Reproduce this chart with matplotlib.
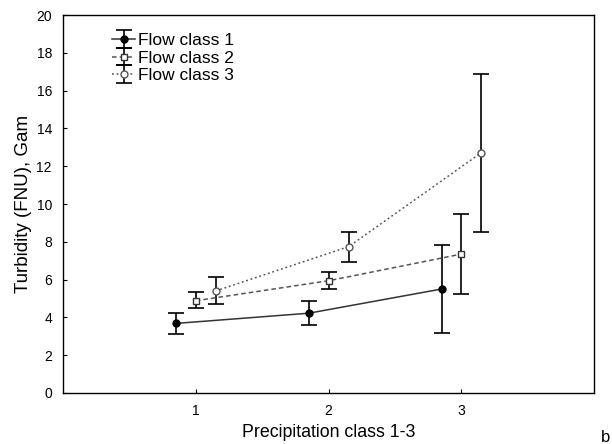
import matplotlib
matplotlib.use("Agg")
import matplotlib.pyplot as plt

plt.rcParams['font.family'] = ['Liberation Sans', 'DejaVu Sans']

# precipitation classes, each flow class drawn slightly offset
classes = [1, 2, 3]
offsets = [-0.15, 0.0, 0.15]
labels = ["Flow class 1", "Flow class 2", "Flow class 3"]

means = [[3.68, 4.22, 5.50],
         [4.88, 5.94, 7.35],
         [5.40, 7.74, 12.72]]
upper = [[4.25, 4.85, 7.85],
         [5.33, 6.40, 9.45],
         [6.12, 8.50, 16.90]]
lower = [[3.14, 3.62, 3.18],
         [4.50, 5.48, 5.26],
         [4.72, 6.92, 8.52]]

styles = [dict(ls='-', marker='o', mfc='black', mec='black', ms=5, color='#333333'),
          dict(ls=(0, (3, 2)), marker='s', mfc='white', mec='#333333', ms=4.5, color='#555555'),
          dict(ls=(0, (1.2, 1.8)), marker='o', mfc='white', mec='#555555', ms=5, color='#555555')]

fig, ax = plt.subplots(figsize=(6.12, 4.44), dpi=100)
fig.subplots_adjust(left=0.103, right=0.971, top=0.966, bottom=0.115)

for i in range(3):
    xs = [c + offsets[i] for c in classes]
    err = [[m - l for m, l in zip(means[i], lower[i])],
           [u - m for m, u in zip(means[i], upper[i])]]
    ax.errorbar(xs, means[i], yerr=err, ecolor='black', elinewidth=1.2,
                capsize=6, capthick=1.2, lw=1.1, label=labels[i], **styles[i])

ax.set_xlim(0, 4)
ax.set_ylim(0, 20)
ax.set_xticks(classes)
ax.set_yticks(range(0, 21, 2))
ax.tick_params(direction='in', length=3, labelsize=10, pad=8)
for s in ax.spines.values():
    s.set_linewidth(1.0)

ax.set_xlabel("Precipitation class 1-3", fontsize=12.8, labelpad=4)
ax.set_ylabel("Turbidity (FNU), Gam", fontsize=13.5, labelpad=3)

ax.legend(loc='upper left', bbox_to_anchor=(0.07, 0.985), frameon=False,
          fontsize=12.5, handlelength=1.3, handletextpad=0.2, labelspacing=0.14,
          borderpad=0.2)

fig.text(0.982, 0.004, "b", fontsize=12)

fig.savefig("out.png", dpi=100)
